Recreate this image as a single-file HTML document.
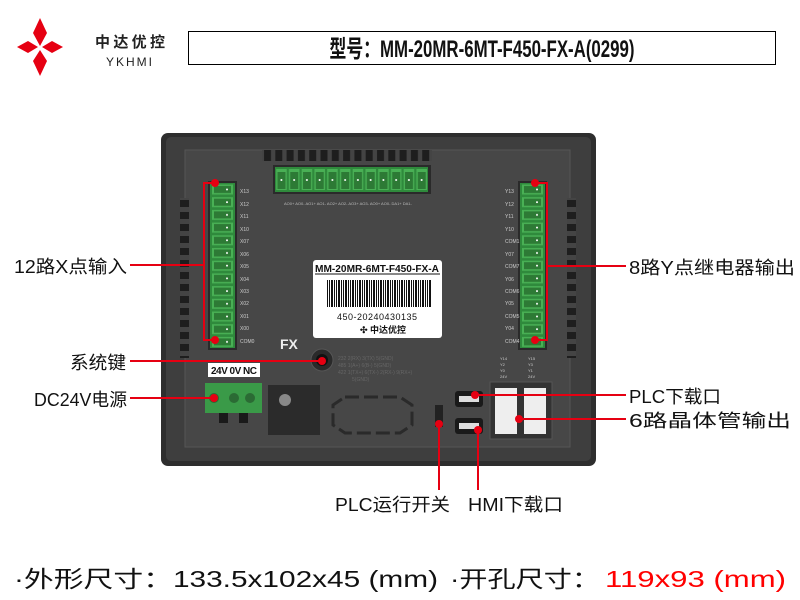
<!DOCTYPE html>
<html><head><meta charset="utf-8"><style>
html,body{margin:0;padding:0;background:#fff;width:800px;height:600px;overflow:hidden}
svg{display:block}
text{font-family:"Liberation Sans","Noto Sans CJK SC",sans-serif}
</style></head><body>
<svg width="800" height="600" viewBox="0 0 800 600" xmlns="http://www.w3.org/2000/svg">
<defs>
<pattern id="pv" x="210" y="183" width="25" height="12.7" patternUnits="userSpaceOnUse">
<rect width="25" height="12.7" fill="#2f8a3c"/><rect x="2" y="1.5" width="21" height="10" fill="#49b055"/><rect x="4" y="3" width="17" height="7" fill="#2d7a35"/><circle cx="17" cy="6.5" r="1" fill="#fff"/></pattern>
<pattern id="pvr" x="520" y="183" width="25" height="12.7" patternUnits="userSpaceOnUse">
<rect width="25" height="12.7" fill="#2f8a3c"/><rect x="2" y="1.5" width="21" height="10" fill="#49b055"/><rect x="4" y="3" width="17" height="7" fill="#2d7a35"/><circle cx="17" cy="6.5" r="1" fill="#fff"/></pattern>
<pattern id="ph" x="275" y="167" width="12.75" height="25" patternUnits="userSpaceOnUse">
<rect width="12.75" height="25" fill="#2f8a3c"/><rect x="1.2" y="2" width="10.5" height="21" fill="#49b055"/><rect x="2.5" y="5" width="8" height="17" fill="#2d7a35"/><circle cx="6.4" cy="13" r="1" fill="#fff"/></pattern>
<pattern id="vent" x="0" y="150" width="10" height="12" patternUnits="userSpaceOnUse"><rect width="10" height="12" fill="#444"/><rect y="2" width="10" height="7" fill="#1e1e1e"/></pattern>
<pattern id="venth" x="262" y="0" width="11.3" height="10" patternUnits="userSpaceOnUse"><rect width="11.3" height="10" fill="#444"/><rect x="2" width="7" height="10" fill="#1e1e1e"/></pattern>
<pattern id="bar" x="0" y="0" width="7" height="10" patternUnits="userSpaceOnUse"><rect width="7" height="10" fill="#fff"/><rect width="1" height="10" fill="#111"/><rect x="2" width="2" height="10" fill="#111"/><rect x="5" width="1" height="10" fill="#111"/></pattern>
</defs>

<polygon points="40,18 47,33 40,46 33,33" fill="#e60012"/>
<polygon points="40,50 47,61 40,76 33,61" fill="#e60012"/>
<polygon points="17,47 28,41 38,47 28,53" fill="#e60012"/>
<polygon points="42,47 52,41 63,47 52,53" fill="#e60012"/>
<text x="95" y="47" font-size="15" font-weight="bold" fill="#222" textLength="70">中达优控</text>
<text x="106" y="66" font-size="12" fill="#222" textLength="46">YKHMI</text>
<rect x="188.5" y="31.5" width="587" height="33" fill="#fff" stroke="#000" stroke-width="1"/>
<text x="482" y="57" font-size="24" font-weight="bold" text-anchor="middle" fill="#111" textLength="305" lengthAdjust="spacingAndGlyphs">型号：MM-20MR-6MT-F450-FX-A(0299)</text>

<rect x="161" y="133" width="435" height="333" rx="7" fill="#2e2e2e"/>
<rect x="166" y="137" width="425" height="324" rx="5" fill="#3e3e3e"/>
<rect x="185" y="150" width="385" height="297" fill="#474747" stroke="#555" stroke-width="1"/>
<rect x="180" y="198" width="9" height="160" fill="url(#vent)"/>
<rect x="567" y="198" width="9" height="160" fill="url(#vent)"/>
<rect x="262" y="150" width="170" height="11" fill="url(#venth)"/>
<rect x="273" y="165" width="158" height="29" fill="#2a2a2a"/>
<rect x="275" y="167" width="153" height="25" fill="url(#ph)"/>
<g font-size="4" fill="#bbb"><text x="284" y="205">AO0+ AO0- AO1+ AO1- AO2+ AO2- AO3+ AO3- AO0+ AO0- DA1+ DA1-</text></g>
<rect x="208" y="181" width="29" height="169" fill="#2a2a2a"/>
<rect x="210" y="183" width="25" height="165" fill="url(#pv)"/>
<rect x="518" y="181" width="29" height="169" fill="#2a2a2a"/>
<rect x="520" y="183" width="25" height="165" fill="url(#pvr)"/>
<g font-size="5" fill="#ccc">
<text x="240" y="193">X13</text><text x="240" y="206">X12</text><text x="240" y="218">X11</text><text x="240" y="231">X10</text><text x="240" y="243">X07</text><text x="240" y="256">X06</text><text x="240" y="268">X05</text><text x="240" y="281">X04</text><text x="240" y="293">X03</text><text x="240" y="305">X02</text><text x="240" y="318">X01</text><text x="240" y="330">X00</text><text x="240" y="343">COM0</text>
<text x="505" y="193">Y13</text><text x="505" y="206">Y12</text><text x="505" y="218">Y11</text><text x="505" y="231">Y10</text><text x="505" y="243">COM1</text><text x="505" y="256">Y07</text><text x="505" y="268">COM7</text><text x="505" y="281">Y06</text><text x="505" y="293">COM6</text><text x="505" y="305">Y05</text><text x="505" y="318">COM5</text><text x="505" y="330">Y04</text><text x="505" y="343">COM4</text>
</g>
<rect x="313" y="260" width="129" height="78" rx="3" fill="#fff"/>
<text x="377" y="272" font-size="10" font-weight="bold" text-anchor="middle" fill="#111" textLength="124" lengthAdjust="spacingAndGlyphs">MM-20MR-6MT-F450-FX-A</text>
<line x1="315" y1="274" x2="440" y2="274" stroke="#111"/>
<rect x="326" y="280" width="105" height="27" fill="url(#bar)"/>
<text x="377" y="320" font-size="9" text-anchor="middle" fill="#111" textLength="80">450-20240430135</text>
<text x="383" y="333" font-size="9" font-weight="bold" text-anchor="middle" fill="#111">✣ 中达优控</text>
<text x="280" y="349" font-size="14" font-weight="bold" fill="#eee">FX</text>
<circle cx="322" cy="360" r="11" fill="#2a2a2a" stroke="#555"/><circle cx="322" cy="360" r="6" fill="#111"/>
<g font-size="5" fill="#666"><text x="338" y="360">232  2(RX) 3(TX) 5(GND)</text><text x="338" y="367">485  1(A+) 6(B-) 5(GND)</text><text x="338" y="374">422  1(TX+) 6(TX-) 2(RX-) 9(RX+)</text><text x="352" y="381">5(GND)</text></g>
<rect x="208" y="363" width="52" height="14" fill="#fff"/>
<text x="211" y="374" font-size="10" font-weight="bold" fill="#111" textLength="46">24V 0V NC</text>
<rect x="205" y="383" width="57" height="30" fill="#3a9a48"/>
<circle cx="214" cy="398" r="5" fill="#2b6b34"/><circle cx="234" cy="398" r="5" fill="#2b6b34"/><circle cx="250" cy="398" r="5" fill="#2b6b34"/>
<rect x="219" y="413" width="9" height="10" fill="#1a1a1a"/><rect x="239" y="413" width="9" height="10" fill="#1a1a1a"/>
<rect x="268" y="385" width="52" height="50" fill="#2b2b2b"/><circle cx="285" cy="400" r="6" fill="#888"/>
<path d="M345,397 h55 l12,8 v20 l-12,8 h-55 l-12,-8 v-20 z" fill="none" stroke="#2a2a2a" stroke-width="3" stroke-dasharray="14,5"/>
<rect x="435" y="405" width="8" height="22" fill="#222"/>
<rect x="455" y="391" width="28" height="16" rx="3" fill="#1a1a1a"/><rect x="459" y="396" width="20" height="6" fill="#ddd"/>
<rect x="455" y="418" width="28" height="16" rx="3" fill="#1a1a1a"/><rect x="459" y="423" width="20" height="6" fill="#ddd"/>
<rect x="490" y="382" width="62" height="57" fill="#333" stroke="#555"/>
<rect x="495" y="388" width="22" height="46" fill="#eee"/><rect x="524" y="388" width="22" height="46" fill="#eee"/>
<g font-size="4" fill="#ccc"><text x="500" y="360">Y14</text><text x="500" y="366">Y2</text><text x="500" y="372">Y0</text><text x="500" y="378">24V</text><text x="528" y="360">Y15</text><text x="528" y="366">Y3</text><text x="528" y="372">Y1</text><text x="528" y="378">24V</text></g>

<g stroke="#e60012" stroke-width="2" fill="none">
<polyline points="130,265 204,265"/><polyline points="215,183 204,183 204,340 215,340"/>
<line x1="130" y1="361" x2="322" y2="361"/>
<line x1="130" y1="398" x2="213" y2="398"/>
<polyline points="626,266 547,266"/><polyline points="535,183 547,183 547,340 535,340"/>
<line x1="475" y1="395" x2="626" y2="395"/>
<line x1="519" y1="419" x2="626" y2="419"/>
<line x1="439" y1="424" x2="439" y2="490"/>
<line x1="478" y1="430" x2="478" y2="490"/>
</g>
<g fill="#e60012">
<circle cx="215" cy="183" r="4"/><circle cx="215" cy="340" r="4"/><circle cx="322" cy="361" r="4"/><circle cx="214" cy="398" r="4"/>
<circle cx="535" cy="183" r="4"/><circle cx="535" cy="340" r="4"/><circle cx="475" cy="395" r="4"/><circle cx="519" cy="419" r="4"/>
<circle cx="439" cy="424" r="4"/><circle cx="478" cy="430" r="4"/>
</g>
<g font-size="18" fill="#111">
<text x="14" y="273" textLength="113" lengthAdjust="spacingAndGlyphs">12路X点输入</text>
<text x="70" y="369" textLength="56" lengthAdjust="spacingAndGlyphs">系统键</text>
<text x="34" y="406" textLength="93" lengthAdjust="spacingAndGlyphs">DC24V电源</text>
<text x="629" y="274" textLength="166" lengthAdjust="spacingAndGlyphs">8路Y点继电器输出</text>
<text x="629" y="403" textLength="92" lengthAdjust="spacingAndGlyphs">PLC下载口</text>
<text x="629" y="427" textLength="162" lengthAdjust="spacingAndGlyphs">6路晶体管输出</text>
<text x="335" y="511" textLength="115" lengthAdjust="spacingAndGlyphs">PLC运行开关</text>
<text x="468" y="511" textLength="95" lengthAdjust="spacingAndGlyphs">HMI下载口</text>
</g>
<g font-size="23">
<text x="14" y="587" fill="#111" textLength="424" lengthAdjust="spacingAndGlyphs">·外形尺寸：133.5x102x45 (mm)</text>
<text x="450" y="587" fill="#111" textLength="150" lengthAdjust="spacingAndGlyphs">·开孔尺寸：</text>
<text x="605" y="587" fill="#f00" textLength="181" lengthAdjust="spacingAndGlyphs">119x93 (mm)</text>
</g>
</svg>
</body></html>
